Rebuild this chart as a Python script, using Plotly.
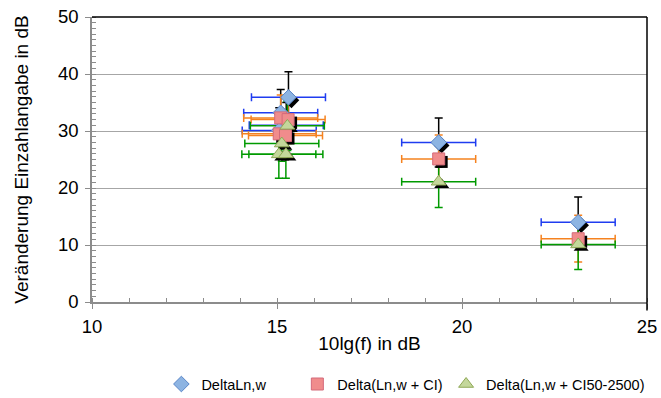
import plotly.graph_objects as go

# ---- data ----
x_dln = [15.31, 15.10, 15.25, 15.06, 19.37, 23.14]
y_dln = [35.9, 33.2, 31.0, 30.1, 28.0, 14.0]
ey_dln = [4.5, 4.1, 4.0, 4.0, 4.3, 4.4]
ex_dln = [1.0, 1.0, 1.0, 1.0, 1.0, 1.0]

x_ci = [15.10, 15.30, 15.06, 15.23, 19.37, 23.14]
y_ci = [32.3, 32.0, 29.5, 29.2, 25.1, 11.1]
ey_ci = [4.0, 4.2, 4.0, 4.0, 4.2, 4.1]
ex_ci = [1.0, 1.0, 1.0, 1.0, 1.0, 1.0]

x_ci50 = [15.28, 15.13, 15.05, 15.24, 19.37, 23.14]
y_ci50 = [30.9, 27.8, 25.9, 25.9, 21.1, 10.1]
ey_ci50 = [4.3, 3.1, 4.2, 4.2, 4.5, 4.4]
ex_ci50 = [1.0, 1.0, 1.0, 1.0, 1.0, 1.0]

names = ["DeltaLn,w", "Delta(Ln,w + CI)", "Delta(Ln,w + CI50-2500)"]

X_RANGE = [10, 25]
Y_RANGE = [0, 50]

W, H = 661, 398
ML, MR, MT, MB = 91.5, 13.5, 17.3, 96
plot_w = W - ML - MR
plot_h = H - MT - MB
# shadow offset (pixels) converted to axis units
SH_PX = 3
dx = SH_PX * (X_RANGE[1] - X_RANGE[0]) / plot_w
dy = SH_PX * (Y_RANGE[1] - Y_RANGE[0]) / plot_h

fig = go.Figure()

series = [
    dict(x=x_dln, y=y_dln, ex=ex_dln, ey=ey_dln, name=names[0], symbol="diamond", size=12,
         fill="#8DB4E2", line="#5A86C8", excol="#1F3CF0", eycol="#000000", legend="legend"),
    dict(x=x_ci, y=y_ci, ex=ex_ci, ey=ey_ci, name=names[1], symbol="square", size=12,
         fill="#F08C8C", line="#D46A7A", excol="#F5821F", eycol="#F5821F", legend="legend2"),
    dict(x=x_ci50, y=y_ci50, ex=ex_ci50, ey=ey_ci50, name=names[2], symbol="triangle-up", size=13,
         fill="#C4D79B", line="#8FA856", excol="#009A00", eycol="#009A00", legend="legend3"),
]

# error bars (main axes)
for s in series:
    fig.add_trace(go.Scatter(
        x=s["x"], y=s["y"], mode="markers", xaxis="x", yaxis="y",
        marker=dict(size=2, opacity=0),
        error_x=dict(type="data", array=s["ex"], color=s["excol"], thickness=1.5, width=4),
        error_y=dict(type="data", array=s["ey"], color=s["eycol"], thickness=1.5, width=4),
        showlegend=False, hoverinfo="skip"))

# shadows (shifted overlay axes)
for s in series:
    fig.add_trace(go.Scatter(
        x=s["x"], y=s["y"], mode="markers", xaxis="x2", yaxis="y2",
        marker=dict(symbol=s["symbol"], size=s["size"], color="#000000",
                    line=dict(width=0)),
        showlegend=False, hoverinfo="skip"))

# markers
for s in series:
    fig.add_trace(go.Scatter(
        x=s["x"], y=s["y"], mode="markers", name=s["name"], xaxis="x3", yaxis="y3",
        marker=dict(symbol=s["symbol"], size=s["size"], color=s["fill"],
                    line=dict(width=1, color=s["line"])),
        legend=s["legend"]))

font = "Liberation Sans, Arial, sans-serif"
axcol = "#8C8C8C"

hidden = dict(visible=False, showgrid=False, zeroline=False)

leg = dict(orientation="h", xanchor="left", yanchor="middle", y=-0.288,
           font=dict(size=14.5), bgcolor="rgba(0,0,0,0)", itemwidth=30)

fig.update_layout(
    width=W, height=H,
    margin=dict(l=ML, r=MR, t=MT, b=MB, pad=0, autoexpand=False),
    paper_bgcolor="white", plot_bgcolor="white",
    font=dict(family=font, color="#000000"),
    xaxis=dict(range=X_RANGE, dtick=5, tick0=10, showgrid=False, zeroline=False,
               showline=True, linecolor=axcol, linewidth=1.5,
               ticks="outside", ticklen=5, tickcolor=axcol, tickwidth=1,
               minor=dict(dtick=1, ticks="inside", ticklen=4, tickcolor=axcol),
               tickfont=dict(size=18.5), ticklabelstandoff=2,
               title=dict(text="10lg(f) in dB", font=dict(size=19), standoff=1)),
    yaxis=dict(range=Y_RANGE, dtick=10, tick0=0, showgrid=True, gridcolor="#A6A6A6",
               gridwidth=1.2, zeroline=False,
               showline=True, linecolor=axcol, linewidth=1.5,
               ticks="outside", ticklen=5, tickcolor=axcol, tickwidth=1,
               minor=dict(dtick=1, ticks="inside", ticklen=4, tickcolor=axcol),
               tickfont=dict(size=18.5), ticklabelstandoff=3,
               title=dict(text="Veränderung Einzahlangabe in dB", font=dict(size=19), standoff=24)),
    xaxis2=dict(range=[X_RANGE[0] - dx, X_RANGE[1] - dx], overlaying="x", **hidden),
    yaxis2=dict(range=[Y_RANGE[0] + dy, Y_RANGE[1] + dy], overlaying="y", **hidden),
    xaxis3=dict(range=X_RANGE, overlaying="x", **hidden),
    yaxis3=dict(range=Y_RANGE, overlaying="y", **hidden),
    legend=dict(leg, x=0.125),
    legend2=dict(leg, x=0.37),
    legend3=dict(leg, x=0.638),
    shapes=[
        dict(type="line", xref="paper", yref="paper", x0=0, x1=1, y0=1, y1=1,
             line=dict(color="#000000", width=1.5)),
        dict(type="line", xref="paper", yref="paper", x0=1, x1=1, y0=-0.03, y1=1,
             line=dict(color="#000000", width=1.5)),
    ],
    showlegend=True,
)

fig.write_html("out.html", config={"displayModeBar": False},
               post_script="document.body.style.margin='0px';")
